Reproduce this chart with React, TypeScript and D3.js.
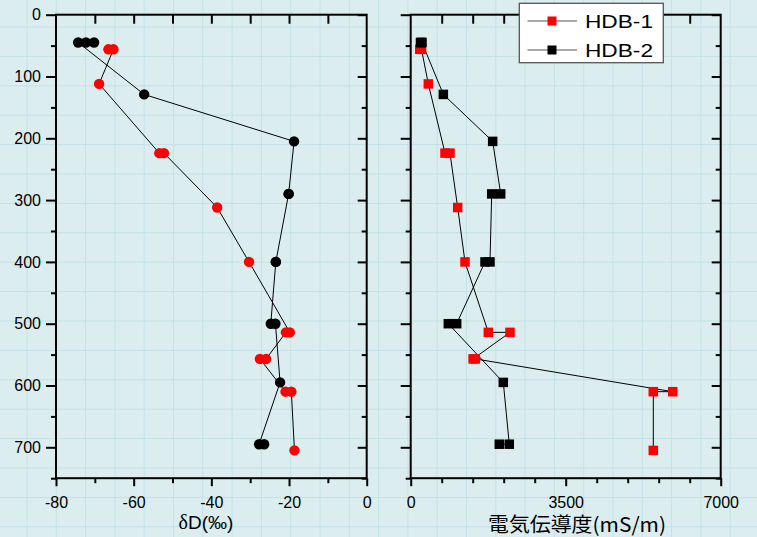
import React, { useEffect, useRef } from "react";
import * as d3 from "d3";

// HDB-1 (red)
const depthHDB1 = [56, 56, 112, 224, 224, 312, 400, 514, 514, 557, 557, 610, 610, 705];
const dDHDB1 = [-66.5, -65.2, -68.9, -53.4, -52.2, -38.5, -30.3, -19.8, -20.8, -25.9, -27.5, -20.9, -19.4, -18.6];
const ecHDB1 = [205, 244, 398, 775, 887, 1061, 1226, 1753, 2242, 1410, 1460, 5916, 5478, 5478];

// HDB-2 (black)
const depthHDB2 = [45, 45, 45, 129, 205, 290, 290, 400, 400, 500, 500, 595, 695, 695];
const dDHDB2 = [-70.2, -72.3, -74.3, -57.3, -18.7, -20.1, -20.1, -23.4, -23.4, -24.7, -23.5, -22.3, -27.7, -26.4];
const ecHDB2 = [221, 240, 255, 737, 1851, 2032, 1829, 1790, 1678, 1038, 849, 2091, 2226, 2000];

const seriesNames = ["HDB-1", "HDB-2"];
const seriesColors = ["#ff0000", "#000000"];

const depthTicks = [0, 100, 200, 300, 400, 500, 600, 700];
const dDTicks = [-80, -60, -40, -20, 0];
const ecTicks = [0, 3500, 7000];

const W = 757, H = 537;
const NUM_FONT = "'Liberation Sans', Arial, sans-serif";

const App = () => {
    const svgRef = useRef<SVGSVGElement>(null);

    useEffect(() => {
        const svg = d3.select(svgRef.current);
        svg.selectAll("*").remove();

        // graph paper background
        svg.append("rect").attr("width", W).attr("height", H).attr("fill", "#dcedf0");
        const grid = svg.append("g").attr("stroke", "#c2e2e6").attr("stroke-width", 1);
        d3.range(27, W, 29.3).forEach(gx => {
            grid.append("line").attr("x1", gx).attr("x2", gx).attr("y1", 0).attr("y2", H);
        });
        d3.range(27, H, 29.4).forEach(gy => {
            grid.append("line").attr("y1", gy).attr("y2", gy).attr("x1", 0).attr("x2", W);
        });

        const y = d3.scaleLinear().domain([0, 750]).range([14.7, 478.2]);
        const xL = d3.scaleLinear().domain([-80, 0]).range([56, 366.7]);
        const xR = d3.scaleLinear().domain([0, 7000]).range([410.7, 720.7]);

        const addAxis = (axis: any, tx: number, ty: number) => {
            const g = svg.append("g").attr("transform", `translate(${tx},${ty})`).call(axis);
            g.select(".domain").remove();
            g.selectAll("line").attr("stroke", "#000").attr("stroke-width", 2);
            g.selectAll("text")
                .attr("font-family", NUM_FONT)
                .attr("font-size", 16)
                .attr("fill", "#000");
            return g;
        };
        const noLabel = () => "";
        const plain = (v: any) => String(v);

        const panel = (x: d3.ScaleLinear<number, number>, major: number[], minor: number[], topTicks: number[], showDepthLabels: boolean) => {
            const [x0, x1] = x.range();
            const [y0, y1] = y.range();
            const depthMinor = d3.range(50, 751, 100);

            // bottom
            addAxis(d3.axisBottom(x).tickValues(major).tickSize(8).tickPadding(10).tickFormat(plain).tickSizeOuter(0), 0, y1);
            addAxis(d3.axisBottom(x).tickValues(minor).tickSize(5).tickFormat(noLabel).tickSizeOuter(0), 0, y1);
            // top (inward)
            addAxis(d3.axisTop(x).tickValues(topTicks).tickSize(-9).tickFormat(noLabel).tickSizeOuter(0), 0, y0);
            // left (outward)
            addAxis(d3.axisLeft(y).tickValues(depthTicks).tickSize(10).tickPadding(5)
                .tickFormat(showDepthLabels ? plain : noLabel).tickSizeOuter(0), x0, 0);
            addAxis(d3.axisLeft(y).tickValues(depthMinor).tickSize(5).tickFormat(noLabel).tickSizeOuter(0), x0, 0);
            // right (inward)
            addAxis(d3.axisRight(y).tickValues(depthTicks).tickSize(-9).tickFormat(noLabel).tickSizeOuter(0), x1, 0);
            addAxis(d3.axisRight(y).tickValues(depthMinor).tickSize(-5).tickFormat(noLabel).tickSizeOuter(0), x1, 0);

            svg.append("rect")
                .attr("x", x0).attr("y", y0)
                .attr("width", x1 - x0).attr("height", y1 - y0)
                .attr("fill", "none").attr("stroke", "#000").attr("stroke-width", 2);
        };

        panel(xL, dDTicks, [-70, -50, -30, -10], d3.range(-70, 0, 10), true);
        panel(xR, ecTicks, d3.range(700, 7000, 700).filter(v => v !== 3500), d3.range(700, 7000, 700), false);

        // connecting lines
        const lineFor = (x: d3.ScaleLinear<number, number>, vals: number[], depths: number[]) =>
            d3.line<number>().x((v) => x(v)).y((_, i) => y(depths[i]))(vals);

        [[dDHDB2, depthHDB2], [dDHDB1, depthHDB1]].forEach(([vals, depths]) => {
            svg.append("path").attr("d", lineFor(xL, vals, depths))
                .attr("fill", "none").attr("stroke", "#000").attr("stroke-width", 1);
        });
        [[ecHDB2, depthHDB2], [ecHDB1, depthHDB1]].forEach(([vals, depths]) => {
            svg.append("path").attr("d", lineFor(xR, vals, depths))
                .attr("fill", "none").attr("stroke", "#000").attr("stroke-width", 1);
        });

        // markers: red first, black on top
        const sets = [
            { dD: dDHDB1, ec: ecHDB1, depth: depthHDB1, color: seriesColors[0] },
            { dD: dDHDB2, ec: ecHDB2, depth: depthHDB2, color: seriesColors[1] },
        ];
        const sq = 9.5;
        sets.forEach(s => {
            svg.append("g").selectAll("circle")
                .data(s.dD)
                .enter()
                .append("circle")
                .attr("cx", d => xL(d))
                .attr("cy", (_, i) => y(s.depth[i]))
                .attr("r", 5.2)
                .attr("fill", s.color);
            svg.append("g").selectAll("rect")
                .data(s.ec)
                .enter()
                .append("rect")
                .attr("x", d => xR(d) - sq / 2)
                .attr("y", (_, i) => y(s.depth[i]) - sq / 2)
                .attr("width", sq)
                .attr("height", sq)
                .attr("fill", s.color);
        });

        // axis titles
        const tL = svg.append("text")
            .attr("x", 206).attr("y", 529)
            .attr("text-anchor", "middle")
            .attr("font-family", NUM_FONT)
            .attr("font-size", 19)
            .attr("fill", "#000");
        tL.append("tspan").attr("font-family", "'Liberation Serif', serif").attr("font-size", 20).text("δ");
        tL.append("tspan").text("D(‰)");

        svg.append("text")
            .attr("x", 577).attr("y", 532)
            .attr("text-anchor", "middle")
            .attr("font-family", "'Noto Sans CJK JP', sans-serif")
            .attr("font-size", 20)
            .attr("textLength", 178)
            .attr("lengthAdjust", "spacingAndGlyphs")
            .attr("fill", "#000")
            .text("電気伝導度(mS/m)");

        // legend
        const lg = svg.append("g");
        lg.append("rect")
            .attr("x", 519.3).attr("y", 3.3)
            .attr("width", 144).attr("height", 59.4)
            .attr("fill", "#fff").attr("stroke", "#555").attr("stroke-width", 1.3);
        seriesNames.forEach((name, i) => {
            const cy = 21 + i * 29;
            lg.append("line").attr("x1", 527.5).attr("x2", 577).attr("y1", cy).attr("y2", cy)
                .attr("stroke", "#555").attr("stroke-width", 1.2);
            lg.append("rect").attr("x", 552 - 4.5).attr("y", cy - 4.5)
                .attr("width", 9).attr("height", 9).attr("fill", seriesColors[i]);
            lg.append("text")
                .attr("x", 585).attr("y", cy + 6.5)
                .attr("font-family", NUM_FONT)
                .attr("font-size", 18)
                .attr("textLength", 68)
                .attr("lengthAdjust", "spacingAndGlyphs")
                .attr("fill", "#000")
                .text(name);
        });
    }, []);

    return <svg ref={svgRef} width={W} height={H} style={{ position: "absolute", left: 0, top: 0 }}></svg>;
};

export default App;
